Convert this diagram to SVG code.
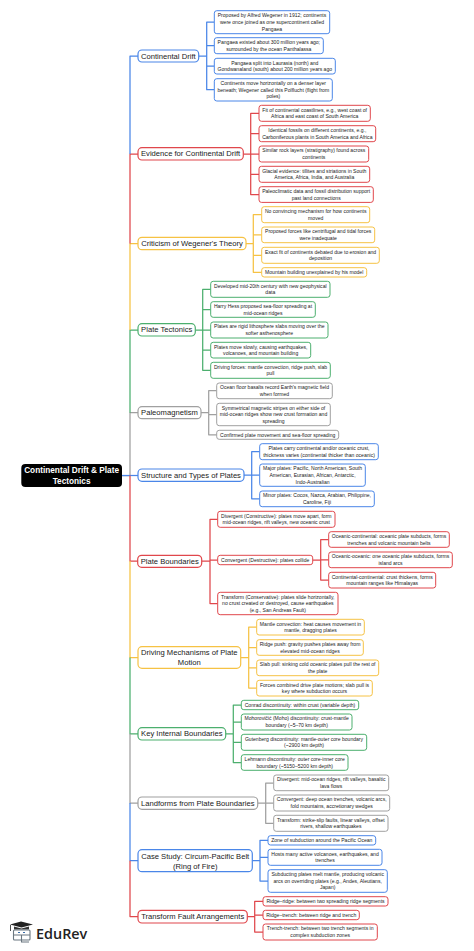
<svg xmlns="http://www.w3.org/2000/svg" width="474" height="951" viewBox="0 0 474 951">
<style>
text{font-family:"Liberation Sans",Arial,sans-serif;text-anchor:middle;fill:#222}
.l{font-size:5.07px}
.b{font-size:7.63px}
.r{font-size:8.25px;font-weight:700;fill:#fff}
rect{fill:#fff}
.lf{stroke-width:1}
.br{stroke-width:1.2}
.c{fill:none;stroke-width:1.25;stroke-linejoin:round}
.blue{stroke:#4a86e8}.red{stroke:#e0474c}.yel{stroke:#f6c244}.grn{stroke:#4caf6e}.gry{stroke:#a0a0a0}
</style>
<rect x="0" y="0" width="474" height="951" style="fill:#fff"/>
<g id="connectors">
<path class="c gry" d="M122 475.5H130V412.7H138"/>
<path class="c grn" d="M130 412.7V330H138"/>
<path class="c yel" d="M130 330V243.5H138"/>
<path class="c red" d="M130 243.5V154H138"/>
<path class="c blue" d="M130 154V56H138"/>
<path class="c blue" d="M122 475.5H138"/>
<path class="c red" d="M130 475.5V561H138"/>
<path class="c yel" d="M130 561V657.5H138"/>
<path class="c grn" d="M130 657.5V733.8H138"/>
<path class="c gry" d="M130 733.8V803H138"/>
<path class="c blue" d="M130 803V860.7H138"/>
<path class="c red" d="M130 860.7V916.5H138"/>
<path class="c blue" d="M198.7 56H206.7M214.3 22H206.7V89.7H214.3M206.7 45.7H214.3M206.7 66H214.3"/>
<path class="c red" d="M243.3 154H250.7M259 113.3H250.7V194.5H259M250.7 133.7H259M250.7 154H259M250.7 174.3H259"/>
<path class="c yel" d="M246 243.5H253.3M261.7 214.7H253.3V272.3H261.7M253.3 234.8H261.7M253.3 255.3H261.7"/>
<path class="c grn" d="M195.3 330H202.7M210.7 289.3H202.7V370.3H210.7M202.7 309.5H210.7M202.7 330H210.7M202.7 350.2H210.7"/>
<path class="c gry" d="M201 412.7H208.7M216.7 390.7H208.7V434.8H216.7M208.7 414.5H216.7"/>
<path class="c blue" d="M244 475H251.7M259.7 451.7H251.7V498.8H259.7M251.7 475H259.7"/>
<path class="c red" d="M201.7 561H210M217.7 519.3H210V603.5H217.7M210 560H217.7"/>
<path class="c red" d="M312.7 560H320.7M328.7 539.5H320.7V580H328.7M320.7 559.8H328.7"/>
<path class="c yel" d="M240.7 657.5H248.7M256.7 627H248.7V688H256.7M248.7 647.5H256.7M248.7 667.8H256.7"/>
<path class="c grn" d="M225.7 733.8H233.3M241.3 705H233.3V762.5H241.3M233.3 722H241.3M233.3 742.3H241.3"/>
<path class="c gry" d="M257.7 803H265.7M273.7 783H265.7V823.3H273.7M265.7 803H273.7"/>
<path class="c blue" d="M252.3 860.7H260M268 840.3H260V881H268M260 857.3H268"/>
<path class="c red" d="M247.3 916.5H254.7M263 901.3H254.7V932H263M254.7 915H263"/>
</g>
<g id="root"><rect x="21.3" y="464" width="100.7" height="23" rx="4" style="fill:#000"/><text class="r" x="71.6" y="472.9">Continental Drift &amp; Plate</text><text class="r" x="71.6" y="483.9">Tectonics</text></g>

<g id="n1"><rect class="br blue" x="138" y="50" width="60.7" height="12" rx="4"/><text class="b" x="168.3" y="58.5">Continental Drift</text></g>
<g id="n1a"><rect class="lf blue" x="214.3" y="10.7" width="115.4" height="23" rx="2.5"/><text class="l" x="272" y="17.3">Proposed by Alfred Wegener in 1912; continents</text><text class="l" x="272" y="24">were once joined as one supercontinent called</text><text class="l" x="272" y="30.6">Pangaea</text></g>
<g id="n1b"><rect class="lf blue" x="214.3" y="37.7" width="109" height="16" rx="2.5"/><text class="l" x="268.8" y="44.3">Pangaea existed about 300 million years ago;</text><text class="l" x="268.8" y="51">surrounded by the ocean Panthalassa</text></g>
<g id="n1c"><rect class="lf blue" x="214.3" y="58.3" width="121" height="15.7" rx="2.5"/><text class="l" x="274.8" y="64.7">Pangaea split into Laurasia (north) and</text><text class="l" x="274.8" y="71.3">Gondwanaland (south) about 200 million years ago</text></g>
<g id="n1d"><rect class="lf blue" x="214.3" y="78.7" width="118" height="22.3" rx="2.5"/><text class="l" x="273.3" y="84.9">Continents move horizontally on a denser layer</text><text class="l" x="273.3" y="91.5">beneath; Wegener called this Polflucht (flight from</text><text class="l" x="273.3" y="98.2">poles)</text></g>

<g id="n2"><rect class="br red" x="138" y="147.7" width="105.3" height="12.3" rx="4"/><text class="b" x="190.6" y="156.4">Evidence for Continental Drift</text></g>
<g id="n2a"><rect class="lf red" x="259" y="105.3" width="111.3" height="16" rx="2.5"/><text class="l" x="314.7" y="111.7">Fit of continental coastlines, e.g., west coast of</text><text class="l" x="314.7" y="118.3">Africa and east coast of South America</text></g>
<g id="n2b"><rect class="lf red" x="259" y="125.7" width="116.7" height="16" rx="2.5"/><text class="l" x="317.3" y="132">Identical fossils on different continents, e.g.,</text><text class="l" x="317.3" y="138.6">Carboniferous plants in South America and Africa</text></g>
<g id="n2c"><rect class="lf red" x="259" y="146" width="109.7" height="16" rx="2.5"/><text class="l" x="313.8" y="152.3">Similar rock layers (stratigraphy) found across</text><text class="l" x="313.8" y="159">continents</text></g>
<g id="n2d"><rect class="lf red" x="259" y="166.3" width="110.7" height="16" rx="2.5"/><text class="l" x="314.3" y="172.7">Glacial evidence: tillites and striations in South</text><text class="l" x="314.3" y="179.3">America, Africa, India, and Australia</text></g>
<g id="n2e"><rect class="lf red" x="259" y="186.7" width="114.3" height="15.7" rx="2.5"/><text class="l" x="316.2" y="193">Paleoclimatic data and fossil distribution support</text><text class="l" x="316.2" y="199.6">past land connections</text></g>

<g id="n3"><rect class="br yel" x="138" y="237.3" width="108" height="12.4" rx="4"/><text class="b" x="192" y="246">Criticism of Wegener's Theory</text></g>
<g id="n3a"><rect class="lf yel" x="261.7" y="206.7" width="108" height="16" rx="2.5"/><text class="l" x="315.7" y="213">No convincing mechanism for how continents</text><text class="l" x="315.7" y="219.6">moved</text></g>
<g id="n3b"><rect class="lf yel" x="261.7" y="227" width="113" height="15.7" rx="2.5"/><text class="l" x="318.2" y="233.3">Proposed forces like centrifugal and tidal forces</text><text class="l" x="318.2" y="240">were inadequate</text></g>
<g id="n3c"><rect class="lf yel" x="261.7" y="247.3" width="117.6" height="16" rx="2.5"/><text class="l" x="320.5" y="253.7">Exact fit of continents debated due to erosion and</text><text class="l" x="320.5" y="260.3">deposition</text></g>
<g id="n3d"><rect class="lf yel" x="261.7" y="267.7" width="105" height="9.3" rx="2.5"/><text class="l" x="314.2" y="274">Mountain building unexplained by his model</text></g>

<g id="n4"><rect class="br grn" x="138" y="323.7" width="57.3" height="12.3" rx="4"/><text class="b" x="166.7" y="332.4">Plate Tectonics</text></g>
<g id="n4a"><rect class="lf grn" x="210.7" y="281.3" width="119.3" height="16" rx="2.5"/><text class="l" x="270.3" y="287.7">Developed mid-20th century with new geophysical</text><text class="l" x="270.3" y="294.3">data</text></g>
<g id="n4b"><rect class="lf grn" x="210.7" y="301.7" width="104.6" height="15.6" rx="2.5"/><text class="l" x="263" y="308">Harry Hess proposed sea-floor spreading at</text><text class="l" x="263" y="314.7">mid-ocean ridges</text></g>
<g id="n4c"><rect class="lf grn" x="210.7" y="322" width="117.3" height="16" rx="2.5"/><text class="l" x="269.3" y="328.3">Plates are rigid lithosphere slabs moving over the</text><text class="l" x="269.3" y="335">softer asthenosphere</text></g>
<g id="n4d"><rect class="lf grn" x="210.7" y="342.3" width="100" height="15.7" rx="2.5"/><text class="l" x="260.7" y="348.7">Plates move slowly, causing earthquakes,</text><text class="l" x="260.7" y="355.3">volcanoes, and mountain building</text></g>
<g id="n4e"><rect class="lf grn" x="210.7" y="362.3" width="119.6" height="16" rx="2.5"/><text class="l" x="270.5" y="368.7">Driving forces: mantle convection, ridge push, slab</text><text class="l" x="270.5" y="375.3">pull</text></g>

<g id="n5"><rect class="br gry" x="138" y="406.7" width="63" height="12" rx="4"/><text class="b" x="169.5" y="415.2">Paleomagnetism</text></g>
<g id="n5a"><rect class="lf gry" x="216.7" y="383" width="115.6" height="15.7" rx="2.5"/><text class="l" x="274.5" y="389.3">Ocean floor basalts record Earth's magnetic field</text><text class="l" x="274.5" y="396">when formed</text></g>
<g id="n5b"><rect class="lf gry" x="216.7" y="403.3" width="113.6" height="22.4" rx="2.5"/><text class="l" x="273.5" y="409.7">Symmetrical magnetic stripes on either side of</text><text class="l" x="273.5" y="416.3">mid-ocean ridges show new crust formation and</text><text class="l" x="273.5" y="423">spreading</text></g>
<g id="n5c"><rect class="lf gry" x="216.7" y="430.3" width="122" height="9" rx="2.5"/><text class="l" x="277.7" y="436.5">Confirmed plate movement and sea-floor spreading</text></g>

<g id="n6"><rect class="br blue" x="138" y="469" width="106" height="12.3" rx="4"/><text class="b" x="191" y="477.7">Structure and Types of Plates</text></g>
<g id="n6a"><rect class="lf blue" x="259.7" y="443.7" width="118.6" height="16" rx="2.5"/><text class="l" x="319" y="450">Plates carry continental and/or oceanic crust,</text><text class="l" x="319" y="456.7">thickness varies (continental thicker than oceanic)</text></g>
<g id="n6b"><rect class="lf blue" x="259.7" y="464" width="105.6" height="22.3" rx="2.5"/><text class="l" x="312.5" y="470.3">Major plates: Pacific, North American, South</text><text class="l" x="312.5" y="477">American, Eurasian, African, Antarctic,</text><text class="l" x="312.5" y="483.7">Indo-Australian</text></g>
<g id="n6c"><rect class="lf blue" x="259.7" y="491" width="114.6" height="15.7" rx="2.5"/><text class="l" x="317" y="497.3">Minor plates: Cocos, Nazca, Arabian, Philippine,</text><text class="l" x="317" y="504">Caroline, Fiji</text></g>

<g id="n7"><rect class="br red" x="137.7" y="555.3" width="64" height="12" rx="4"/><text class="b" x="169.7" y="563.8">Plate Boundaries</text></g>
<g id="n7a"><rect class="lf red" x="217.7" y="511.3" width="117.3" height="16" rx="2.5"/><text class="l" x="276.3" y="517.6">Divergent (Constructive): plates move apart, form</text><text class="l" x="276.3" y="524.3">mid-ocean ridges, rift valleys, new oceanic crust</text></g>
<g id="n7b"><rect class="lf red" x="217.7" y="555.3" width="95" height="9.4" rx="2.5"/><text class="l" x="265.2" y="561.7">Convergent (Destructive): plates collide</text></g>
<g id="n7c"><rect class="lf red" x="217.7" y="592.3" width="120.3" height="22.4" rx="2.5"/><text class="l" x="277.8" y="598.6">Transform (Conservative): plates slide horizontally,</text><text class="l" x="277.8" y="605.3">no crust created or destroyed, cause earthquakes</text><text class="l" x="277.8" y="612">(e.g., San Andreas Fault)</text></g>
<g id="n7b1"><rect class="lf red" x="328.7" y="531.7" width="120.6" height="15.6" rx="2.5"/><text class="l" x="389" y="537.9">Oceanic-continental: oceanic plate subducts, forms</text><text class="l" x="389" y="544.6">trenches and volcanic mountain belts</text></g>
<g id="n7b2"><rect class="lf red" x="328.7" y="552" width="123.6" height="15.7" rx="2.5"/><text class="l" x="390.5" y="558.3">Oceanic-oceanic: one oceanic plate subducts, forms</text><text class="l" x="390.5" y="565">island arcs</text></g>
<g id="n7b3"><rect class="lf red" x="328.7" y="572.3" width="107" height="15.7" rx="2.5"/><text class="l" x="382.2" y="578.6">Continental-continental: crust thickens, forms</text><text class="l" x="382.2" y="585.3">mountain ranges like Himalayas</text></g>

<g id="n8"><rect class="br yel" x="138" y="646.7" width="102.7" height="21.6" rx="4"/><text class="b" x="189.3" y="655.3">Driving Mechanisms of Plate</text><text class="b" x="189.3" y="665.3">Motion</text></g>
<g id="n8a"><rect class="lf yel" x="256.7" y="619.3" width="107.6" height="15.7" rx="2.5"/><text class="l" x="310.5" y="625.6">Mantle convection: heat causes movement in</text><text class="l" x="310.5" y="632.3">mantle, dragging plates</text></g>
<g id="n8b"><rect class="lf yel" x="256.7" y="639.7" width="106.6" height="15.6" rx="2.5"/><text class="l" x="310" y="646">Ridge push: gravity pushes plates away from</text><text class="l" x="310" y="652.6">elevated mid-ocean ridges</text></g>
<g id="n8c"><rect class="lf yel" x="256.7" y="660" width="122" height="15.7" rx="2.5"/><text class="l" x="317.7" y="666.3">Slab pull: sinking cold oceanic plates pull the rest of</text><text class="l" x="317.7" y="673">the plate</text></g>
<g id="n8d"><rect class="lf yel" x="256.7" y="680.3" width="115.6" height="15.7" rx="2.5"/><text class="l" x="314.5" y="686.6">Forces combined drive plate motions; slab pull is</text><text class="l" x="314.5" y="693.3">key where subduction occurs</text></g>

<g id="n9"><rect class="br grn" x="138" y="727.7" width="87.7" height="12.3" rx="4"/><text class="b" x="181.8" y="736.3">Key Internal Boundaries</text></g>
<g id="n9a"><rect class="lf grn" x="241.3" y="700.3" width="117.4" height="9.4" rx="2.5"/><text class="l" x="300" y="706.7">Conrad discontinuity: within crust (variable depth)</text></g>
<g id="n9b"><rect class="lf grn" x="241.3" y="714" width="110.7" height="16" rx="2.5"/><text class="l" x="296.7" y="720.4">Mohorovičić (Moho) discontinuity: crust-mantle</text><text class="l" x="296.7" y="727">boundary (~5–70 km depth)</text></g>
<g id="n9c"><rect class="lf grn" x="241.3" y="734.3" width="125.4" height="16" rx="2.5"/><text class="l" x="304" y="740.7">Gutenberg discontinuity: mantle-outer core boundary</text><text class="l" x="304" y="747.3">(~2900 km depth)</text></g>
<g id="n9d"><rect class="lf grn" x="241.3" y="754.7" width="106.7" height="15.6" rx="2.5"/><text class="l" x="294.7" y="761">Lehmann discontinuity: outer core-inner core</text><text class="l" x="294.7" y="767.6">boundary (~5150–5200 km depth)</text></g>

<g id="n10"><rect class="br gry" x="138" y="797" width="119.7" height="12.3" rx="4"/><text class="b" x="197.8" y="805.6">Landforms from Plate Boundaries</text></g>
<g id="n10a"><rect class="lf gry" x="273.7" y="775" width="115" height="15.7" rx="2.5"/><text class="l" x="331.2" y="781.3">Divergent: mid-ocean ridges, rift valleys, basaltic</text><text class="l" x="331.2" y="788">lava flows</text></g>
<g id="n10b"><rect class="lf gry" x="273.7" y="795" width="116" height="16" rx="2.5"/><text class="l" x="331.7" y="801.4">Convergent: deep ocean trenches, volcanic arcs,</text><text class="l" x="331.7" y="808">fold mountains, accretionary wedges</text></g>
<g id="n10c"><rect class="lf gry" x="273.7" y="815.3" width="114.3" height="16" rx="2.5"/><text class="l" x="330.8" y="821.6">Transform: strike-slip faults, linear valleys, offset</text><text class="l" x="330.8" y="828.3">rivers, shallow earthquakes</text></g>

<g id="n11"><rect class="br blue" x="138" y="849.7" width="114.3" height="22" rx="4"/><text class="b" x="195.2" y="858.5">Case Study: Circum-Pacific Belt</text><text class="b" x="195.2" y="868.5">(Ring of Fire)</text></g>
<g id="n11a"><rect class="lf blue" x="268" y="835.7" width="107.7" height="9.3" rx="2.5"/><text class="l" x="321.8" y="842">Zone of subduction around the Pacific Ocean</text></g>
<g id="n11b"><rect class="lf blue" x="268" y="849.3" width="114" height="16" rx="2.5"/><text class="l" x="325" y="855.7">Hosts many active volcanoes, earthquakes, and</text><text class="l" x="325" y="862.3">trenches</text></g>
<g id="n11c"><rect class="lf blue" x="268" y="869.7" width="119.3" height="22.6" rx="2.5"/><text class="l" x="327.7" y="876">Subducting plates melt mantle, producing volcanic</text><text class="l" x="327.7" y="882.6">arcs on overriding plates (e.g., Andes, Aleutians,</text><text class="l" x="327.7" y="889.3">Japan)</text></g>

<g id="n12"><rect class="br red" x="138" y="910.3" width="109.3" height="12.7" rx="4"/><text class="b" x="192.7" y="919.2">Transform Fault Arrangements</text></g>
<g id="n12a"><rect class="lf red" x="263" y="896.7" width="125" height="9.3" rx="2.5"/><text class="l" x="325.5" y="903">Ridge–ridge: between two spreading ridge segments</text></g>
<g id="n12b"><rect class="lf red" x="263" y="910.3" width="96.3" height="9.4" rx="2.5"/><text class="l" x="311.2" y="916.7">Ridge–trench: between ridge and trench</text></g>
<g id="n12c"><rect class="lf red" x="263" y="924" width="114.3" height="16" rx="2.5"/><text class="l" x="320.2" y="930.4">Trench-trench: between two trench segments in</text><text class="l" x="320.2" y="937">complex subduction zones</text></g>

<g id="logo">
<path d="M10 924.5L21 921.5L33 924.5L21.5 927.5Z" fill="#222"/>
<path d="M14 926.5V929.5H29V926.5L21.5 928.5Z" fill="#333"/>
<path d="M10.5 925V931" stroke="#222" stroke-width=".8" fill="none"/>
<rect x="13.5" y="930" width="16.5" height="10" rx="1" style="fill:none" stroke="#6b7780" stroke-width="1.1"/>
<path d="M13.5 935H30M21.5 935V942H29" fill="none" stroke="#6b7780" stroke-width="1.1"/>
<path d="M18 932.5h2M23 932.5h2" stroke="#3b6ea8" stroke-width="1.2"/>
<text x="36" y="938.8" style="text-anchor:start;font-family:'Open Sans',sans-serif;font-size:14.4px;font-weight:600;fill:#222">EduRev</text>
</g>
</svg>
